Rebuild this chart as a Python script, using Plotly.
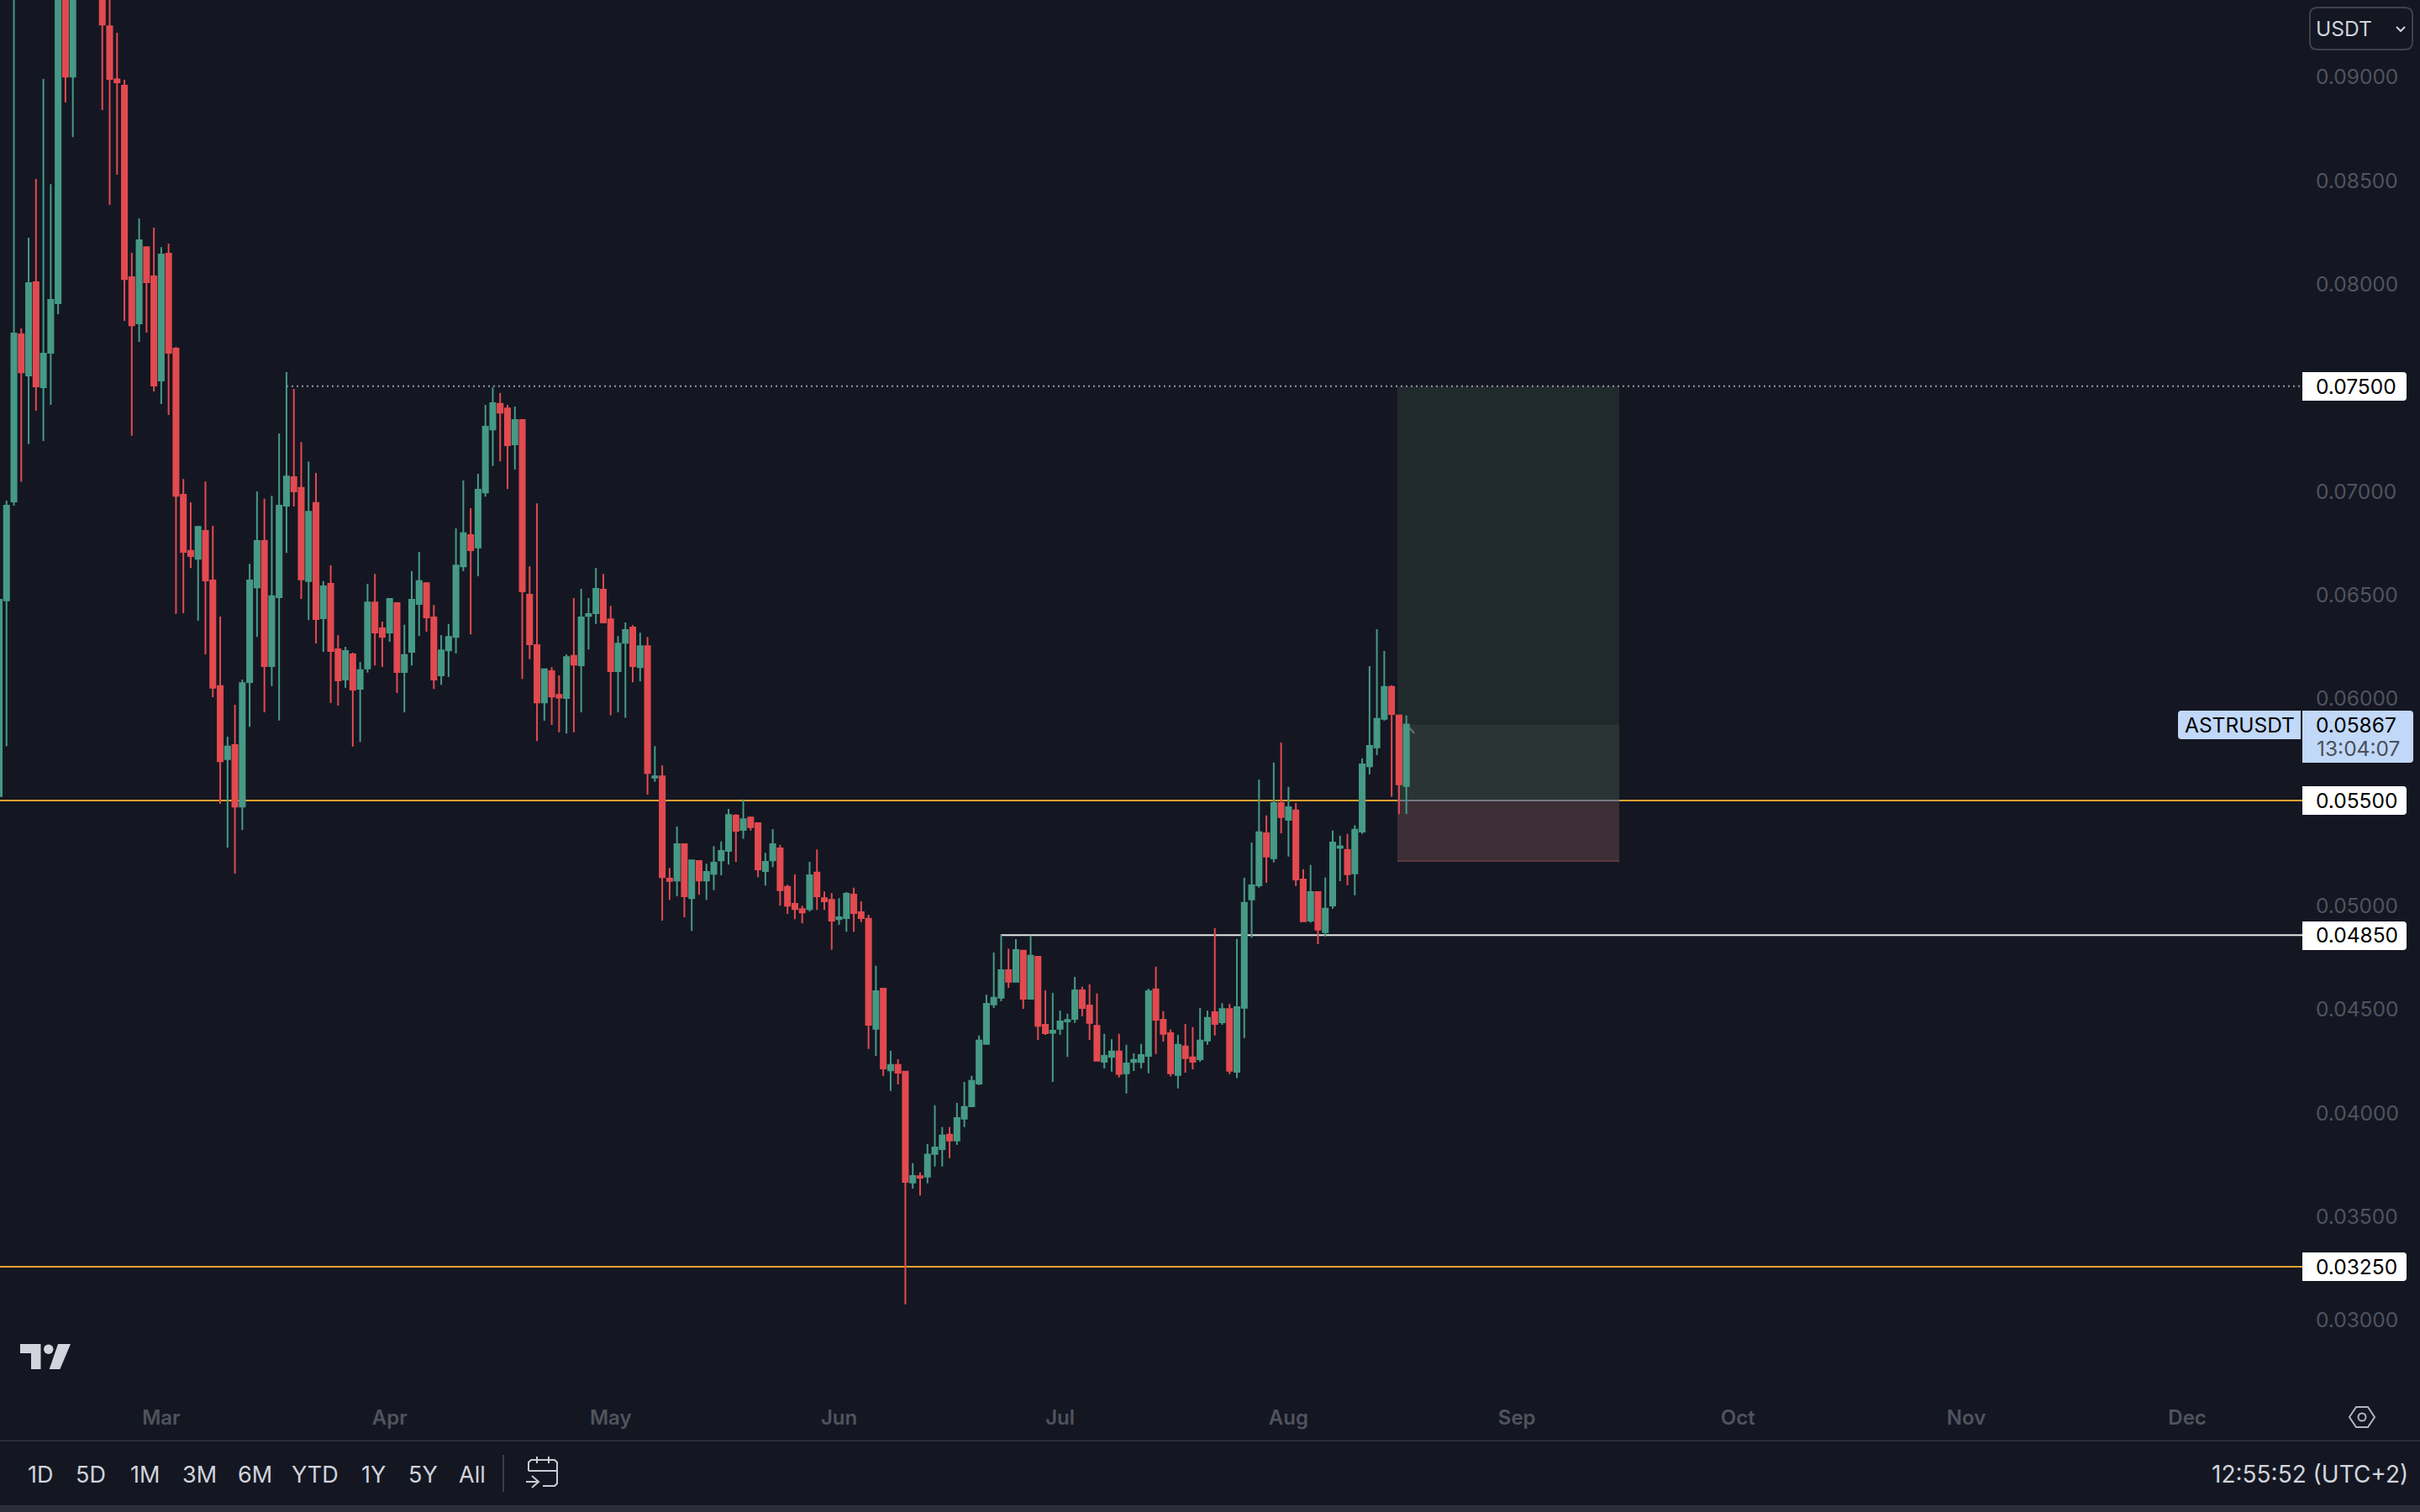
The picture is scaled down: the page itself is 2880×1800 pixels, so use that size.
import pandas as pd
import plotly.graph_objects as go

# daily ASTRUSDT candles
start_date = '2024-02-08'

opens = [.05521,.06466,.06943,.07750,.07551,.08001,.07495,.07661,.07900,.0985,
         .08994,.0965,.0985,.0975,.0960,.09237,.08980,.08950,.08026,.07803,
         .08171,.08030,.07527,.08139,.07681,.06976,.06705,.06667,.06801,.06562,
         .06052,.05700,.05768,.05471,.06072,.06529,.06753,.06149,.06481,.06923,
         .07061,.07009,.06559,.06936,.06380,.06546,.06230,.06084,.06205,.06039,
         .06137,.06456,.06331,.06311,.06453,.06120,.06218,.06449,.06549,.06384,
         .06104,.06225,.06290,.06630,.06781,.06721,.06987,.07291,.07414,.07392,
         .07219,.07336,.06493,.06250,.05973,.06124,.06010,.05995,.06198,.06153,
         .06391,.06404,.06518,.06375,.06124,.06261,.06335,.06144,.06245,.05610,
         .05617,.05123,.05114,.05289,.05029,.05208,.05114,.05146,.05211,.05257,
         .05427,.05358,.05418,.05391,.05159,.05211,.05269,.05083,.05001,.04976,
         .04976,.05152,.05029,.05021,.04927,.04932,.05046,.04961,.04929,.04398,
         .04592,.04198,.04224,.04192,.03656,.03687,.03685,.03794,.03818,.03888,
         .03859,.03965,.04024,.04134,.04325,.04516,.04548,.04681,.04625,.04775,
         .04543,.04746,.04418,.04379,.04398,.04434,.04446,.04584,.04511,.04413,
         .04239,.04263,.04289,.04183,.04238,.04238,.04268,.04589,.04442,.04377,
         .04175,.04313,.04260,.04251,.04342,.04478,.04430,.04494,.04191,.04500,
         .05023,.05091,.05342,.05221,.05488,.05407,.05452,.05119,.04920,.05058,
         .04865,.04993,.05272,.05262,.05148,.05350,.05665,.05756,.05894,.06048,
         .05910,.05570]

closes = [.06469,.06923,.07754,.07567,.07997,.07499,.07657,.07916,.0985,.08994,
          .0965,.0985,.0975,.0960,.09245,.08982,.08966,.08017,.07794,.08204,
          .08001,.07503,.08135,.07661,.06971,.06700,.06680,.06821,.06562,.06044,
          .05690,.05760,.05471,.06067,.06562,.06753,.06149,.06486,.06923,.07064,
          .06992,.06567,.06894,.06376,.06534,.06222,.06080,.06222,.06035,.06129,
          .06456,.06311,.06290,.06473,.06120,.06202,.06469,.06559,.06384,.06084,
          .06225,.06290,.06634,.06790,.06708,.07000,.07304,.07418,.07372,.07215,
          .07336,.06509,.06254,.05973,.06133,.06002,.05997,.06192,.06156,.06384,
          .06400,.06522,.06359,.06124,.06257,.06323,.06149,.06245,.05633,.05617,
          .05130,.05112,.05289,.05038,.05211,.05114,.05155,.05200,.05257,.05430,
          .05354,.05410,.05371,.05168,.05204,.05289,.05067,.04992,.04976,.04960,
          .05139,.05038,.05014,.04920,.04936,.05050,.04957,.04932,.04418,.04580,
          .04207,.04224,.04186,.03659,.03688,.03680,.03791,.03826,.03883,.03859,
          .03968,.04021,.04147,.04342,.04519,.04548,.04681,.04625,.04778,.04543,
          .04751,.04413,.04377,.04389,.04434,.04441,.04584,.04499,.04427,.04244,
          .04268,.04289,.04180,.04231,.04248,.04272,.04580,.04442,.04374,.04183,
          .04321,.04256,.04239,.04342,.04451,.04422,.04494,.04196,.04503,.05006,
          .05091,.05347,.05229,.05488,.05420,.05468,.05119,.04917,.05058,.04877,
          .04978,.05297,.05279,.05144,.05359,.05674,.05764,.05894,.06048,.05918,
          .05578,.05867]

highs = [.06469,.06947,.0985,.07778,.08216,.08500,.08982,.08475,.1000,.1010,
         .0975,.0990,.1010,.0990,.0975,.0960,.09205,.08978,.08143,.08309,
         .08171,.08265,.08171,.08188,.07689,.07052,.06939,.06826,.0704,.06826,
         .06388,.05808,.05962,.06084,.06642,.06992,.06956,.06971,.07272,.07568,
         .07486,.07230,.07136,.07081,.06559,.06635,.06298,.06242,.06213,.06169,
         .06546,.06594,.06363,.06477,.06456,.06348,.06607,.06700,.06554,.06444,
         .06299,.06352,.06813,.07045,.06911,.07077,.07409,.07494,.07467,.07409,
         .07401,.07340,.06630,.06934,.06136,.06144,.06104,.06205,.06477,.06522,
         .06477,.06623,.06594,.06440,.06294,.06359,.06346,.06310,.06290,.05763,
         .05669,.05175,.05374,.05289,.05211,.05208,.05195,.05280,.05302,.05459,
         .05434,.05505,.05423,.05394,.05248,.05362,.05286,.05094,.05143,.04992,
         .05204,.05264,.05061,.05054,.05029,.05058,.05079,.05014,.04949,.04702,
         .04592,.04292,.04251,.04192,.03750,.03705,.03842,.04029,.03924,.03924,
         .04041,.04142,.04171,.04366,.04563,.04766,.04852,.04784,.04831,.04778,
         .04848,.04746,.04584,.04572,.04487,.04471,.04649,.04601,.04613,.04569,
         .04374,.04348,.04374,.04321,.04280,.04325,.04592,.04698,.04483,.04395,
         .04369,.04422,.04406,.04499,.04487,.04884,.04522,.04519,.04832,.05127,
         .05297,.05601,.05428,.05683,.05780,.05566,.05488,.05169,.05189,.05058,
         .05128,.05355,.05330,.05339,.05380,.05704,.06149,.06327,.06222,.06056,
         .05910,.05910]

lows = [.05521,.05762,.06923,.07038,.07220,.07381,.07235,.07409,.07847,.08869,
        .08702,.0945,.0950,.0945,.08832,.08374,.08520,.07815,.07260,.07713,
        .07758,.07474,.07413,.07361,.06401,.06404,.06622,.06368,.06205,.05999,
        .05484,.05273,.05147,.05358,.05856,.06290,.05926,.06052,.05886,.06695,
        .06919,.06473,.06371,.06258,.06218,.05971,.05958,.06044,.05760,.05783,
        .06117,.06152,.06145,.06266,.06019,.05926,.06152,.06295,.06315,.06038,
        .06058,.06096,.06209,.06607,.06302,.06582,.06967,.07114,.07137,.07003,
        .07097,.06087,.06182,.05787,.05885,.05865,.05829,.05823,.05829,.05926,
        .06229,.06352,.06355,.05911,.05926,.05899,.06071,.06075,.05528,.05590,
        .04920,.05021,.05038,.04936,.04871,.05045,.05021,.05067,.05139,.05191,
        .05204,.05316,.05354,.05130,.05090,.05179,.04992,.04953,.04927,.04907,
        .04965,.04972,.04972,.04779,.04900,.04867,.04867,.04913,.04301,.04268,
        .04171,.04098,.04130,.03069,.03627,.03594,.03652,.03733,.03733,.03774,
        .03838,.03924,.04021,.04127,.04325,.04499,.04531,.04596,.04621,.04495,
        .04543,.04345,.04369,.04142,.04369,.04263,.04427,.04459,.04345,.04244,
        .04207,.04192,.04163,.04086,.04195,.04207,.04183,.04277,.04337,.04168,
        .04110,.04186,.04203,.04239,.04321,.04366,.04418,.04179,.04160,.04354,
        .04838,.05079,.05103,.05201,.05342,.05229,.05088,.04913,.04910,.04807,
        .04844,.04978,.05111,.05091,.05043,.05339,.05626,.05719,.05885,.05518,
        .05435,.05435]

price_ticks = [.03, .035, .04, .045, .05, .06, .065, .07, .08, .085, .09]
month_ticks = ['2024-03-01', '2024-04-01', '2024-05-01', '2024-06-01', '2024-07-01',
               '2024-08-01', '2024-09-01', '2024-10-01', '2024-11-01', '2024-12-01']
month_labels = ['Mar', 'Apr', 'May', 'Jun', 'Jul', 'Aug', 'Sep', 'Oct', 'Nov', 'Dec']
range_labels = ['1D', '5D', '1M', '3M', '6M', 'YTD', '1Y', '5Y', 'All']
range_label_x = [48, 108, 172, 237, 303, 375, 444, 503, 562]

last_price = 0.05867
stop_price = 0.05208
entry_price = 0.055
target_price = 0.075
support_price = 0.0325
white_price = 0.0485

W, H = 2880, 1800
SCALE_X = 2740      # left edge of the price scale
PANE_BOTTOM = 1660
PX_PER_DAY = 8.768

BG = '#141722'
GREEN = '#469a85'
RED = '#e24a50'
ORANGE = '#f7a12e'
FONT = 'Inter'

dates = pd.date_range(start_date, periods=len(opens))
d0 = dates[0]


def day_at(px):
    return d0 + pd.Timedelta(days=(px + 1) / PX_PER_DAY)


def px(x):
    return x / W


def py(y):
    return 1 - y / H


def path(points, close=False):
    s = 'M ' + ' L '.join(f'{px(x):.5f},{py(y):.5f}' for x, y in points)
    return s + ' Z' if close else s


def paper_shape(points, fill=None, line=None, width=0, close=True):
    return dict(type='path', xref='paper', yref='paper', path=path(points, close),
                fillcolor=fill, line=dict(color=line, width=width), layer='above')


def rounded_box(x0, y0, x1, y1, left=False, right=False, r=4):
    # bezier corners so the label boxes keep their square inner edge
    def p(x, y):
        return f'{px(x):.5f},{py(y):.5f}'
    s = 'M ' + p(x0 + (r if left else 0), y0)
    s += ' L ' + p(x1 - (r if right else 0), y0)
    if right:
        s += f' Q {p(x1, y0)} {p(x1, y0 + r)}'
    s += ' L ' + p(x1, y1 - (r if right else 0))
    if right:
        s += f' Q {p(x1, y1)} {p(x1 - r, y1)}'
    s += ' L ' + p(x0 + (r if left else 0), y1)
    if left:
        s += f' Q {p(x0, y1)} {p(x0, y1 - r)}'
    s += ' L ' + p(x0, y0 + (r if left else 0))
    if left:
        s += f' Q {p(x0, y0)} {p(x0 + r, y0)}'
    return s + ' Z'


fig = go.Figure(go.Candlestick(
    x=dates, open=opens, high=highs, low=lows, close=closes,
    increasing=dict(line=dict(color=GREEN, width=2), fillcolor=GREEN),
    decreasing=dict(line=dict(color=RED, width=2), fillcolor=RED),
    showlegend=False, hoverinfo='skip',
))

zone_x0 = day_at(1663)
zone_x1 = day_at(1927)
white_x0 = day_at(1191)
dotted_x0 = day_at(341)
axis_end = day_at(SCALE_X)

shapes = [
    # position tool
    dict(type='rect', x0=zone_x0, x1=zone_x1, y0=last_price, y1=target_price,
         fillcolor='#202a2c', line_width=0, layer='below'),
    dict(type='rect', x0=zone_x0, x1=zone_x1, y0=entry_price, y1=last_price,
         fillcolor='#2a3533', line_width=0, layer='below'),
    dict(type='rect', x0=zone_x0, x1=zone_x1, y0=stop_price, y1=entry_price,
         fillcolor='#3e2e36', line_width=0, layer='below'),
    # levels
    dict(type='line', x0=d0, x1=axis_end, y0=entry_price, y1=entry_price,
         line=dict(color=ORANGE, width=2), layer='below'),
    dict(type='line', x0=d0, x1=axis_end, y0=support_price, y1=support_price,
         line=dict(color=ORANGE, width=2), layer='below'),
    dict(type='line', x0=white_x0, x1=axis_end, y0=white_price, y1=white_price,
         line=dict(color='#e6e6e6', width=2), layer='below'),
    dict(type='line', x0=dotted_x0, x1=axis_end, y0=target_price, y1=target_price,
         line=dict(color='#9598a1', width=2, dash='2px,4px'), layer='below'),
    dict(type='line', x0=zone_x0, x1=zone_x1, y0=entry_price, y1=entry_price,
         line=dict(color='#73777f', width=2), layer='below'),
    dict(type='line', x0=zone_x0, x1=zone_x1, y0=stop_price, y1=stop_price,
         line=dict(color='#5a3a40', width=2), layer='below'),
    # small pointer next to the last candle
    paper_shape([(1677, 866), (1683, 873)], line='#6b6e78', width=2, close=False),
    # price labels
    dict(type='path', xref='paper', yref='paper', layer='above', line_width=0, fillcolor='#c1d8f8',
         path=rounded_box(2740, 846, 2872, 908, right=True)),
    dict(type='path', xref='paper', yref='paper', layer='above', line_width=0, fillcolor='#c1d8f8',
         path=rounded_box(2592, 846, 2738, 880, left=True)),
]
for centre in [460, 953, 1114, 1508]:
    shapes.append(dict(type='path', xref='paper', yref='paper', layer='above', line_width=0,
                       fillcolor='#ffffff',
                       path=rounded_box(2740, centre - 17, 2864, centre + 17, right=True)))

# currency dropdown
shapes.append(dict(type='path', xref='paper', yref='paper', layer='above',
                   line=dict(color='#3f424d', width=2), fillcolor=BG,
                   path=rounded_box(2749, 9, 2871, 59, left=True, right=True, r=9)))
shapes.append(paper_shape([(2852, 32), (2857, 37), (2862, 32)], line='#d1d4dc', width=2, close=False))

# bottom bar
shapes += [
    paper_shape([(0, 1715), (W, 1715)], line='#2a2e39', width=2, close=False),
    paper_shape([(0, 1792), (W, 1792), (W, 1800), (0, 1800)], fill='#2b2e3a'),
    paper_shape([(599, 1732), (599, 1776)], line='#3a3e4a', width=2, close=False),
]

# calendar icon
for seg in ([(629, 1751), (629, 1741), (632, 1738), (660, 1738), (663, 1741), (663, 1766), (660, 1769), (646, 1769)],
            [(629, 1751), (663, 1751)],
            [(639, 1734), (639, 1742)],
            [(653, 1734), (653, 1742)],
            [(626, 1764), (641, 1764)],
            [(633, 1757), (641, 1764), (633, 1771)]):
    shapes.append(paper_shape(seg, line='#c8cbd3', width=2, close=False))

# logo
shapes += [
    paper_shape([(24, 1600), (48.5, 1600), (48.5, 1630), (37, 1630), (37, 1611), (24, 1611)], fill='#d1d4dc'),
    paper_shape([(69, 1600), (84, 1600), (71.4, 1630), (58.7, 1630)], fill='#d1d4dc'),
    dict(type='circle', xref='paper', yref='paper', x0=px(52), x1=px(63.5), y0=py(1612), y1=py(1600.5),
         fillcolor='#d1d4dc', line_width=0, layer='above'),
]

# settings hexagon
shapes += [
    paper_shape([(2796, 1687), (2804, 1675), (2818, 1675), (2826, 1687), (2818, 1699), (2804, 1699)],
                line='#b2b5be', width=2),
    dict(type='circle', xref='paper', yref='paper', x0=px(2806.5), x1=px(2815.5), y0=py(1691.5), y1=py(1682.5),
         line=dict(color='#b2b5be', width=2), layer='above'),
]


def text(label, x, y, size=24.5, color='#000000', anchor='left', yref='paper'):
    return dict(text=label, x=px(x), y=y, xref='paper', yref=yref, xanchor=anchor, yanchor='middle',
                showarrow=False, font=dict(family=FONT, size=size, color=color))


annotations = [
    text('USDT', 2754, py(34), color='#d1d4dc'),
    text('ASTRUSDT', 2598, py(863)),
    text('0.05867', 2754, py(863)),
    text('13:04:07', 2755, py(891), color='#4a4e59'),
    text('12:55:52 (UTC+2)', 2868, py(1755), size=28, color='#d1d4dc', anchor='right'),
]
for level in [target_price, entry_price, white_price, support_price]:
    annotations.append(text(f'{level:.5f}', 2754, level, yref='y'))
for label, x in zip(range_labels, range_label_x):
    annotations.append(text(label, x, py(1755), size=27, color='#d1d4dc', anchor='center'))

fig.update_layout(
    width=W, height=H,
    margin=dict(l=0, r=0, t=0, b=0, autoexpand=False),
    paper_bgcolor=BG, plot_bgcolor=BG,
    showlegend=False,
    shapes=shapes,
    annotations=annotations,
    hovermode=False,
    boxgap=0.31, boxgroupgap=0,
    xaxis=dict(
        domain=[0, SCALE_X / W],
        range=[day_at(0), axis_end],
        rangeslider=dict(visible=False),
        showgrid=False, zeroline=False, showline=False,
        tickmode='array', tickvals=month_ticks, ticktext=month_labels,
        ticks='', ticklabelstandoff=11,
        tickfont=dict(family=FONT, size=24, color='#50535e', weight=600),
    ),
    yaxis=dict(
        domain=[1 - PANE_BOTTOM / H, 1],
        side='right',
        range=[entry_price - (PANE_BOTTOM - 953) / 24667, entry_price + 953 / 24667],
        showgrid=False, zeroline=False, showline=False,
        tickmode='array', tickvals=price_ticks, ticktext=[f'{t:.5f}' for t in price_ticks],
        ticks='', ticklabelstandoff=15, ticklabelshift=2,
        tickfont=dict(family=FONT, size=24.5, color='#50535e'),
    ),
)

fig.write_html("out.html", config=dict(displayModeBar=False),
               post_script="document.body.style.margin='0';document.body.style.overflow='hidden';document.body.style.background='#141722';")
